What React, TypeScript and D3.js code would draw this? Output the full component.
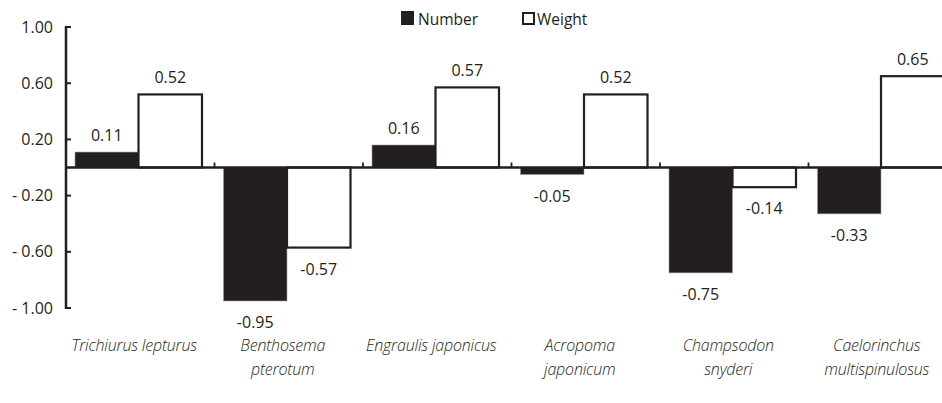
import React from 'react';
import * as d3 from 'd3';

const species: string[][] = [
  ['Trichiurus lepturus'],
  ['Benthosema', 'pterotum'],
  ['Engraulis japonicus'],
  ['Acropoma', 'japonicum'],
  ['Champsodon', 'snyderi'],
  ['Caelorinchus', 'multispinulosus'],
];
const numberVals = [0.11, -0.95, 0.16, -0.05, -0.75, -0.33];
const weightVals = [0.52, -0.57, 0.57, 0.52, -0.14, 0.65];
const seriesNames = ['Number', 'Weight'];
const yTicks = [1.0, 0.6, 0.2, -0.2, -0.6, -1.0];

const W = 942;
const H = 403;
const ink = '#231f20';
const font = '"Open Sans", "Noto Sans", sans-serif';

const App: React.FC = () => {
  const axisX = 66;
  const band = 148.5;
  const keys = species.map((_, i) => String(i));

  const x = d3
    .scaleBand<string>()
    .domain(keys)
    .range([axisX, axisX + band * keys.length])
    .paddingInner(0)
    .paddingOuter(0);

  const xs = d3.scaleBand<string>().domain(seriesNames).range([9, 9 + 127]);

  const y = d3.scaleLinear().domain([-1, 1]).range([308, 27]);
  const y0 = y(0);

  const fmtTick = (d: number) => (d < 0 ? `- ${Math.abs(d).toFixed(2)}` : d.toFixed(2));
  const fmtVal = (d: number) => d.toFixed(2);

  const bars = species.flatMap((_, i) =>
    seriesNames.map((s) => {
      const v = s === 'Number' ? numberVals[i] : weightVals[i];
      const bx = (x(String(i)) || 0) + (xs(s) || 0);
      return { i, s, v, bx, bw: xs.bandwidth() };
    })
  );

  return (
    <svg
      width={W}
      height={H}
      style={{ position: 'absolute', left: 0, top: 0, display: 'block', background: '#fff' }}
      fontFamily={font}
    >
      <defs>
        <clipPath id="plot">
          <rect x={0} y={0} width={W} height={H} />
        </clipPath>
      </defs>

      {/* legend */}
      <rect x={401} y={11} width={13} height={14} fill={ink} />
      <text x={418} y={25} fontSize={15.5} fill={ink}>
        Number
      </text>
      <rect x={523} y={13} width={11} height={11} fill="#fff" stroke={ink} strokeWidth={2} />
      <text x={537} y={25} fontSize={15.5} fill={ink}>
        Weight
      </text>

      {/* bars */}
      <g clipPath="url(#plot)">
        {bars.map((b) => {
          const top = Math.min(y(b.v), y0);
          const h = Math.abs(y(b.v) - y0);
          return b.s === 'Number' ? (
            <rect key={`${b.i}-${b.s}`} x={b.bx} y={top} width={b.bw} height={h} fill={ink} stroke="#9a9a9a" strokeWidth={0.6} />
          ) : (
            <rect key={`${b.i}-${b.s}`} x={b.bx} y={top} width={b.bw} height={h} fill="#fff" stroke={ink} strokeWidth={2.2} />
          );
        })}
      </g>

      {/* value labels */}
      {bars.map((b) => (
        <text
          key={`l-${b.i}-${b.s}`}
          x={b.bx + b.bw / 2}
          y={b.v >= 0 ? y(b.v) - 11 : y(b.v) + 27}
          textAnchor="middle"
          fontSize={16}
          fill={ink}
        >
          {fmtVal(b.v)}
        </text>
      ))}

      {/* zero line with category ticks */}
      <line x1={axisX} x2={W} y1={y0} y2={y0} stroke={ink} strokeWidth={2.5} />
      {keys.slice(1).map((k) => (
        <line key={`ct-${k}`} x1={x(k)} x2={x(k)} y1={y0} y2={y0 - 5} stroke={ink} strokeWidth={1.8} />
      ))}

      {/* y axis */}
      <line x1={axisX} x2={axisX} y1={y(1) - 1} y2={y(-1) + 1} stroke={ink} strokeWidth={2.5} />
      {yTicks.map((t) => (
        <g key={`yt-${t}`}>
          <line x1={axisX} x2={axisX + 5} y1={y(t)} y2={y(t)} stroke={ink} strokeWidth={2} />
          <text x={53} y={y(t) + 5.5} textAnchor="end" fontSize={16} fill={ink}>
            {fmtTick(t)}
          </text>
        </g>
      ))}

      {/* category labels */}
      {species.map((lines, i) => {
        const cx = (x(String(i)) || 0) + band / 2 - 6;
        return (
          <text
            key={`cat-${i}`}
            x={cx}
            textAnchor="middle"
            fontSize={16}
            fontStyle="italic"
            fontWeight={300}
            fill={ink}
            letterSpacing={-0.2}
          >
            {lines.map((ln, j) => (
              <tspan key={j} x={cx} y={351 + j * 24}>
                {ln}
              </tspan>
            ))}
          </text>
        );
      })}
    </svg>
  );
};

export default App;
